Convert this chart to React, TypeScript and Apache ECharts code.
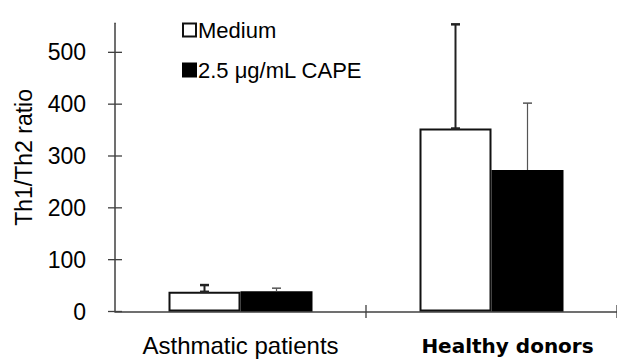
import React, { useEffect, useRef } from "react";
import * as echarts from "echarts";

const categories = ["Asthmatic patients", "Healthy donors"];
const seriesNames = ["Medium", "2.5 μg/mL CAPE"];
const mediumValues = [38, 353];
const capeValues = [39, 273];
const mediumErrTop = [51, 554];
const capeErrTop = [45, 402];
const yTicks = [0, 100, 200, 300, 400, 500];
const yMax = 556;

const BAR_W = 72;
const AXIS_COLOR = "#404040";

function errorRender(offset: number, stemW: number, capW: number, capStroke: number, color: string, bottomCap: boolean) {
  return (params: any, api: any) => {
    const idx = api.value(0);
    const low = api.coord([idx, api.value(1)]);
    const high = api.coord([idx, api.value(2)]);
    const x = low[0] + offset;
    const children: any[] = [
      { type: "line", shape: { x1: x, y1: low[1], x2: x, y2: high[1] }, style: { stroke: color, lineWidth: stemW } },
      { type: "line", shape: { x1: x - capW / 2, y1: high[1], x2: x + capW / 2, y2: high[1] }, style: { stroke: color, lineWidth: capStroke } },
    ];
    if (bottomCap) {
      children.push({ type: "line", shape: { x1: x - capW / 2, y1: low[1], x2: x + capW / 2, y2: low[1] }, style: { stroke: color, lineWidth: capStroke } });
    }
    return { type: "group", children };
  };
}

// crossing tick marks on the y axis, positioned through the axes' scales
function yTickRender(params: any, api: any) {
  const p = api.coord([0, api.value(1)]);
  const band = api.size([1, 0])[0];
  const x = p[0] - band / 2;
  return { type: "line", shape: { x1: x - 7, y1: p[1], x2: x + 7, y2: p[1] }, style: { stroke: AXIS_COLOR, lineWidth: 1.3 } };
}

// crossing tick marks on the x axis at the right boundary of each category
function xTickRender(params: any, api: any) {
  const p = api.coord([api.value(0), 0]);
  const band = api.size([1, 0])[0];
  const x = p[0] + band / 2;
  return { type: "line", shape: { x1: x, y1: p[1] - 6.5, x2: x, y2: p[1] + 6.5 }, style: { stroke: AXIS_COLOR, lineWidth: 1.3 } };
}

export default function App() {
  const ref = useRef<HTMLDivElement>(null);
  useEffect(() => {
    if (!ref.current) return;
    const chart = echarts.init(ref.current, null, { renderer: "svg" });
    const font = "Liberation Sans, Arial, sans-serif";
    chart.setOption({
      animation: false,
      backgroundColor: "#fff",
      grid: { left: 115, right: 0, top: 23.3, bottom: 49.5, containLabel: false },
      legend: {
        orient: "vertical",
        left: 177,
        top: 14,
        itemWidth: 13,
        itemHeight: 13,
        itemGap: 18,
        icon: "rect",
        data: seriesNames,
        textStyle: { fontFamily: font, fontSize: 22, color: "#000", lineHeight: 22, padding: [0, 0, 0, -3] },
      },
      xAxis: {
        type: "category",
        data: categories,
        position: "bottom",
        axisLine: { show: true, lineStyle: { color: AXIS_COLOR, width: 1.5 } },
        axisTick: { show: false },
        axisLabel: {
          interval: 0,
          margin: 21,
          formatter: (v: string) => (v === "Healthy donors" ? `{b|${v}}` : `{n|${v}}`),
          rich: {
            n: { fontFamily: font, fontSize: 24, color: "#000", lineHeight: 26 },
            b: { fontFamily: "DejaVu Sans", fontWeight: "bold", fontSize: 20, color: "#000", lineHeight: 26, padding: [0, 0, 0, 32] },
          },
        },
        splitLine: { show: false },
      },
      yAxis: {
        type: "value",
        min: 0,
        max: yMax,
        interval: 100,
        axisLine: { show: true, lineStyle: { color: AXIS_COLOR, width: 1.5 } },
        axisTick: { show: false },
        axisLabel: { customValues: yTicks, margin: 29, fontFamily: font, fontSize: 23, color: "#000" },
        splitLine: { show: false },
        name: "Th1/Th2 ratio",
        nameLocation: "middle",
        nameGap: 80,
        nameTextStyle: { fontFamily: font, fontSize: 23, color: "#000", padding: [0, 0, 0, 20] },
      },
      series: [
        {
          name: seriesNames[0],
          type: "bar",
          data: mediumValues,
          barWidth: BAR_W,
          barGap: "0%",
          itemStyle: { color: "#fff", borderColor: "#111", borderWidth: 2 },
          z: 2,
        },
        {
          name: seriesNames[1],
          type: "bar",
          data: capeValues,
          barWidth: BAR_W,
          barGap: "0%",
          itemStyle: { color: "#000", borderColor: "#000", borderWidth: 2 },
          z: 3,
        },
        {
          name: "Medium error",
          type: "custom",
          data: categories.map((_, i) => [i, mediumValues[i], mediumErrTop[i]]),
          encode: { x: 0, y: [1, 2] },
          renderItem: errorRender(-BAR_W / 2, 2, 9, 2.5, "#222", true),
          z: 5,
        },
        {
          name: "CAPE error",
          type: "custom",
          data: categories.map((_, i) => [i, capeValues[i], capeErrTop[i]]),
          encode: { x: 0, y: [1, 2] },
          renderItem: errorRender(BAR_W / 2, 1.2, 9, 1.5, "#555", false),
          z: 5,
        },
        {
          name: "y ticks",
          type: "custom",
          data: yTicks.map((v) => [0, v]),
          encode: { x: 0, y: 1 },
          renderItem: yTickRender,
          silent: true,
          clip: false,
          z: 6,
        },
        {
          name: "x ticks",
          type: "custom",
          data: categories.map((_, i) => [i, 0]),
          encode: { x: 0, y: 1 },
          renderItem: xTickRender,
          silent: true,
          clip: false,
          z: 6,
        },
      ],
    });
    return () => chart.dispose();
  }, []);
  return <div ref={ref} style={{ position: "absolute", left: 0, top: 0, width: 617, height: 361 }} />;
}
